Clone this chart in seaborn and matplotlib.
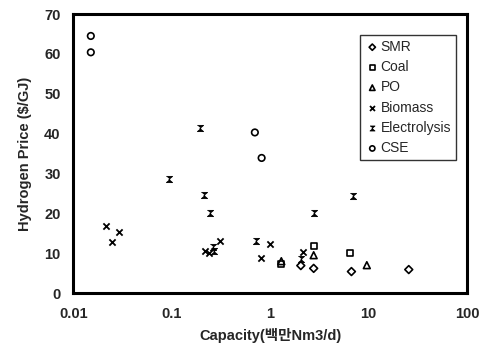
import numpy as np
import pandas as pd
import matplotlib
matplotlib.use("Agg")
import matplotlib.pyplot as plt
import seaborn as sns

# values
smr_x = [2.05, 2.77, 6.7, 25.6]
smr_y = [6.9, 6.2, 5.4, 5.9]
coal_x = [1.3, 2.77, 6.5]
coal_y = [7.2, 11.8, 10.1]
po_x = [1.3, 2.77, 9.6]
po_y = [8.0, 9.5, 7.0]
biomass_x = [0.0216, 0.0246, 0.0295, 0.216, 0.24, 0.31, 0.80, 1.0, 2.17]
biomass_y = [16.9, 12.9, 15.4, 10.5, 10.0, 13.0, 8.9, 12.3, 10.2]
elec_x = [0.095, 0.196, 0.212, 0.244, 0.26, 0.27, 0.725, 2.05, 2.77, 6.9]
elec_y = [28.5, 41.3, 24.6, 20.1, 11.5, 10.5, 13.0, 8.5, 20.2, 24.4]
cse_x = [0.0151, 0.0151, 0.70, 0.82]
cse_y = [64.5, 60.4, 40.3, 33.9]

x_ticks = [0.01, 0.1, 1, 10, 100]
x_tick_labels = ["0.01", "0.1", "1", "10", "100"]
y_ticks = [0, 10, 20, 30, 40, 50, 60, 70]

series = [
    ("SMR", smr_x, smr_y),
    ("Coal", coal_x, coal_y),
    ("PO", po_x, po_y),
    ("Biomass", biomass_x, biomass_y),
    ("Electrolysis", elec_x, elec_y),
    ("CSE", cse_x, cse_y),
]
rows = []
for name, xs, ys in series:
    for a, b in zip(xs, ys):
        rows.append({"Type": name, "Capacity": a, "Price": b})
df = pd.DataFrame(rows)

sns.set_style("white")
plt.rcParams["font.family"] = ["Liberation Sans", "Noto Sans CJK KR", "DejaVu Sans"]

# x with bars on top and bottom, like the reference's electrolysis mark
hourglass = [(-1, 1), (1, 1), (-0.2, 0), (1, -1), (-1, -1), (0.2, 0)]
styles = {
    "SMR": dict(marker="D", s=16, facecolor="none", edgecolor="black", linewidth=1.2),
    "Coal": dict(marker="s", s=20, facecolor="none", edgecolor="black", linewidth=1.2),
    "PO": dict(marker="^", s=24, facecolor="none", edgecolor="black", linewidth=1.2),
    "Biomass": dict(marker="x", s=20, color="black", linewidth=1.3),
    "Electrolysis": dict(marker=hourglass, s=20, facecolor="black", edgecolor="black", linewidth=0.6),
    "CSE": dict(marker="o", s=22, facecolor="none", edgecolor="black", linewidth=1.2),
}

fig = plt.figure(figsize=(4.88, 3.51), dpi=100)
ax = fig.add_axes([0.150, 0.165, 0.807, 0.795])

for name, _, _ in series:
    sub = df[df["Type"] == name]
    sns.scatterplot(data=sub, x="Capacity", y="Price", ax=ax, label=name, **styles[name])

ax.set_xscale("log")
ax.set_xlim(0.01, 100)
ax.set_ylim(0, 70)
ax.set_xticks(x_ticks)
ax.set_xticklabels(x_tick_labels)
ax.set_yticks(y_ticks)
ax.minorticks_off()
ax.tick_params(axis="x", direction="in", length=4, width=1.2, labelsize=10.5, pad=10)
ax.tick_params(axis="y", length=0, labelsize=10.5, pad=9)
for lab in ax.get_xticklabels() + ax.get_yticklabels():
    lab.set_fontweight("bold")

for sp in ax.spines.values():
    sp.set_visible(True)
    sp.set_color("black")
    sp.set_linewidth(2.2)

ax.set_xlabel("Capacity(백만Nm3/d)", fontsize=10.5, fontweight="bold", labelpad=5)
ax.set_ylabel("Hydrogen Price ($/GJ)", fontsize=10.5, fontweight="bold", labelpad=9)

leg = ax.legend(loc="upper right", bbox_to_anchor=(0.972, 0.925), fontsize=10,
                frameon=True, fancybox=False, edgecolor="black", handletextpad=0.1,
                handlelength=1.0, labelspacing=0.45, borderpad=0.35, markerscale=0.8,
                borderaxespad=0)
leg.get_frame().set_linewidth(1.0)

fig.savefig("out.png", dpi=100)
